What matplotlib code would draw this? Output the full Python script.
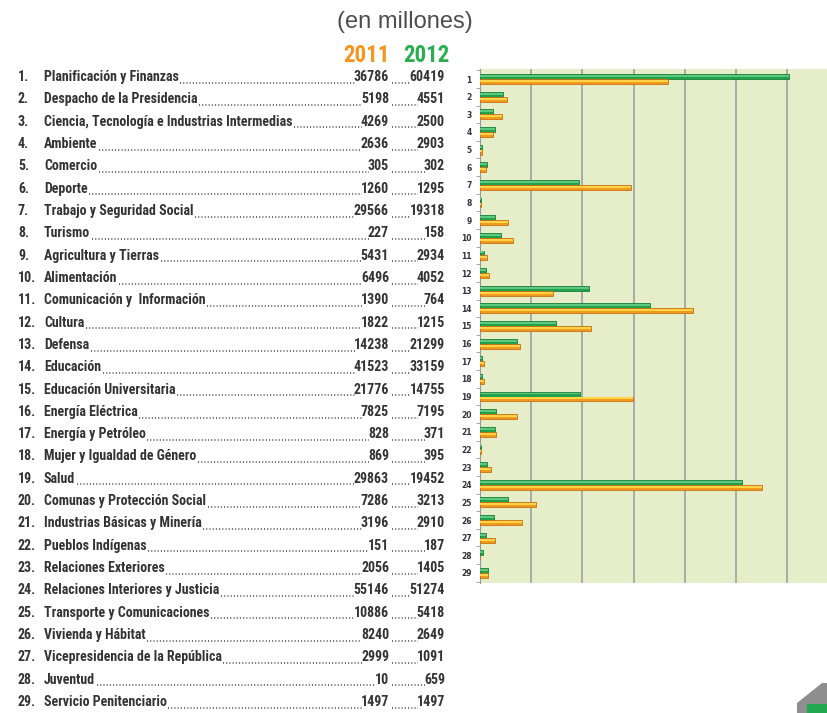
import matplotlib
matplotlib.use("Agg")
import matplotlib.pyplot as plt
from matplotlib import font_manager as fm
from matplotlib.patches import Polygon, Rectangle
from matplotlib.lines import Line2D
import numpy as np

W, H = 827, 713
DPI = 100

names = [
    "Planificación y Finanzas",
    "Despacho de la Presidencia",
    "Ciencia, Tecnología e Industrias Intermedias",
    "Ambiente",
    "Comercio",
    "Deporte",
    "Trabajo y Seguridad Social",
    "Turismo",
    "Agricultura y Tierras",
    "Alimentación",
    "Comunicación y  Información",
    "Cultura",
    "Defensa",
    "Educación",
    "Educación Universitaria",
    "Energía Eléctrica",
    "Energía y Petróleo",
    "Mujer y Igualdad de Género",
    "Salud",
    "Comunas y Protección Social",
    "Industrias Básicas y Minería",
    "Pueblos Indígenas",
    "Relaciones Exteriores",
    "Relaciones Interiores y Justicia",
    "Transporte y Comunicaciones",
    "Vivienda y Hábitat",
    "Vicepresidencia de la República",
    "Juventud",
    "Servicio Penitenciario",
]
v2011 = [36786, 5198, 4269, 2636, 305, 1260, 29566, 227, 5431, 6496,
         1390, 1822, 14238, 41523, 21776, 7825, 828, 869, 29863, 7286,
         3196, 151, 2056, 55146, 10886, 8240, 2999, 10, 1497]
v2012 = [60419, 4551, 2500, 2903, 302, 1295, 19318, 158, 2934, 4052,
         764, 1215, 21299, 33159, 14755, 7195, 371, 395, 19452, 3213,
         2910, 187, 1405, 51274, 5418, 2649, 1091, 659, 1497]
year_labels = ["2011", "2012"]
subtitle = "(en millones)"

ORANGE = "#f7941d"
GREEN = "#2bae4f"
TXT = "#333333"

# ---- pick the narrowest available family ----
avail = {(f.name, f.stretch) for f in fm.fontManager.ttflist}
avail_names = {f.name for f in fm.fontManager.ttflist}
FAM, STRETCH = "Liberation Sans", "normal"
for cand, st in [("Liberation Sans Narrow", "normal"), ("Roboto Condensed", "normal"),
                 ("Open Sans Condensed", "normal")]:
    if cand in avail_names:
        FAM, STRETCH = cand, st
        break
else:
    for (nm_, st_) in avail:
        if nm_ in ("DejaVu Sans", "Noto Sans", "Open Sans", "Roboto") and st_ in ("condensed", "semi-condensed"):
            FAM, STRETCH = nm_, st_
            break
FONT = dict(family=[FAM, "DejaVu Sans"], fontstretch=STRETCH, fontweight="bold")

fig = plt.figure(figsize=(W / DPI, H / DPI), dpi=DPI)
fig.patch.set_facecolor("white")

def fx(x):
    return x / W

def fy(y):
    return 1 - y / H

# fit font size: longest name should span ~251 px
probe = fig.text(0, 0, names[2], fontsize=10, **FONT)
fig.canvas.draw()
wpx = probe.get_window_extent(fig.canvas.get_renderer()).width
probe.remove()
fs = min(10.0, 10.0 * 251.0 / wpx)

# ---------------- bar chart ----------------
ax = fig.add_axes([fx(480), fy(583), fx(827) - fx(480), fy(69) - fy(583)])
ax.set_facecolor("#e5edc9")
n = len(names)
pos = np.arange(1, n + 1)
bh = 0.28
off = 0.14
ax.barh(pos - off, v2012, height=bh, color="#22a04c", edgecolor="#1a7f3b", linewidth=0.6, zorder=3)
ax.barh(pos - off - bh * 0.12, v2012, height=bh * 0.4, color="#5cc97c", linewidth=0, zorder=4)
ax.barh(pos + off, v2011, height=bh, color="#f29a1e", edgecolor="#c9720f", linewidth=0.6, zorder=3)
ax.barh(pos + off - bh * 0.12, v2011, height=bh * 0.4, color="#ffd447", linewidth=0, zorder=4)

ax.set_xlim(0, 67800)
ax.set_ylim(n + 0.57, 0.43)
ax.set_xticks(np.arange(0, 70000, 10000))
ax.xaxis.grid(True, color="#a6a6a6", linewidth=1.3, zorder=1)
ax.set_axisbelow(True)
ax.tick_params(axis="x", length=0, labelbottom=False)
ax.set_yticks(pos)
ax.set_yticklabels([str(i) for i in pos], fontsize=5.5, fontweight="bold", color="#333333")
ax.tick_params(axis="y", which="major", length=0, pad=6)
ax.set_yticks(np.arange(0.5, n + 1, 1), minor=True)
ax.tick_params(axis="y", which="minor", length=3, color="#9a9a9a", width=0.6)
for s in ["top", "right", "bottom"]:
    ax.spines[s].set_visible(False)
ax.spines["left"].set_color("#9a9a9a")
ax.spines["left"].set_linewidth(0.8)

# ---------------- headers ----------------
fig.text(fx(405), fy(22), subtitle, ha="center", va="center", fontsize=17,
         color="#4d4d4d", family=["Liberation Sans", "DejaVu Sans"])
fig.text(fx(390), fy(55), year_labels[0], ha="right", va="center", fontsize=fs * 1.65,
         color=ORANGE, **FONT)
fig.text(fx(450), fy(55), year_labels[1], ha="right", va="center", fontsize=fs * 1.65,
         color=GREEN, **FONT)

# ---------------- left list ----------------
y0, y1 = 77, 702
rows = []
for i in range(n):
    y = y0 + (y1 - y0) * i / (n - 1)
    fig.text(fx(18), fy(y), f"{i + 1}.", ha="left", va="center", fontsize=fs,
             color=TXT, **FONT)
    nm = fig.text(fx(44), fy(y), names[i], ha="left", va="center", fontsize=fs,
                  color=TXT, **FONT)
    a = fig.text(fx(389), fy(y), str(v2011[i]), ha="right", va="center", fontsize=fs,
                 color=TXT, **FONT)
    b = fig.text(fx(445), fy(y), str(v2012[i]), ha="right", va="center", fontsize=fs,
                 color=TXT, **FONT)
    rows.append((y, nm, a, b))

fig.canvas.draw()
r = fig.canvas.get_renderer()
for y, nm, a, b in rows:
    e_nm = nm.get_window_extent(r)
    e_a = a.get_window_extent(r)
    e_b = b.get_window_extent(r)
    ydot = e_a.y0 / H + 1.3 / H
    for xs, xe in [(e_nm.x1 + 1.5, e_a.x0 + 1.0), (e_a.x1 + 3, e_b.x0 + 1.0)]:
        if xe > xs:
            fig.add_artist(Line2D([xs / W, xe / W], [ydot, ydot], transform=fig.transFigure,
                                  color="#444444", linewidth=1.1, linestyle=(0, (0.7, 1.4)),
                                  dash_capstyle="butt"))

# ---------------- corner logo ----------------
fig.patches.append(Polygon([(fx(797), fy(713)), (fx(797), fy(703)), (fx(822), fy(683)),
                            (fx(827), fy(683)), (fx(827), fy(713))], closed=True,
                           transform=fig.transFigure, facecolor="#8e8e8e", edgecolor="none"))
fig.patches.append(Rectangle((fx(807), fy(713)), fx(827) - fx(807), fy(704) - fy(713),
                             transform=fig.transFigure, facecolor="#22a84f", edgecolor="none"))

fig.savefig("out.png", dpi=DPI)
